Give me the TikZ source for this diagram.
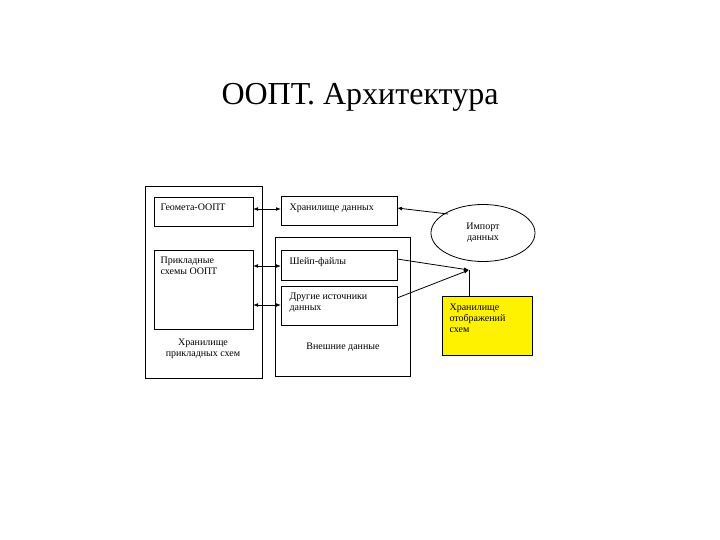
\documentclass[tikz,border=0pt]{standalone}
\usepackage{fontspec}
\setmainfont{Liberation Serif}
\usetikzlibrary{arrows.meta,shapes.geometric}
\begin{document}
\begin{tikzpicture}[x=1pt,y=-1pt,
  box/.style={draw,thick,inner sep=0pt},
  lbl/.style={font=\fontsize{10}{11}\selectfont,align=left,anchor=north west},
  dbl/.style={thick,{Latex[length=5pt]}-{Latex[length=5pt]}},
  sgl/.style={thick,-{Latex[length=5pt]}}]
\useasboundingbox (0,0) rectangle (720,540);
\node[font=\fontsize{32}{36}\selectfont] (title) at (360,97) {ООПТ. Архитектура};
\draw[thick] (145,186) rectangle (262,378);
\draw[thick] (275,237) rectangle (410,376);
\node[box,minimum width=99pt,minimum height=29pt,anchor=north west] (geo) at (154,197) {};
\node[lbl] at (157,200) {Геомета-ООПТ};
\node[box,minimum width=99pt,minimum height=79pt,anchor=north west] (pri) at (154,250) {};
\node[lbl] at (157,253) {Прикладные\\схемы ООПТ};
\node[font=\fontsize{10}{11}\selectfont,align=center] (hps) at (203,349) {Хранилище\\прикладных схем};
\node[box,minimum width=116pt,minimum height=29pt,anchor=north west] (hd) at (281,196) {};
\node[lbl] at (286,200) {Хранилище данных};
\node[box,minimum width=116pt,minimum height=30pt,anchor=north west] (shp) at (281,250) {};
\node[lbl] at (286,254) {Шейп-файлы};
\node[box,minimum width=116pt,minimum height=39pt,anchor=north west] (oth) at (281,286) {};
\node[lbl] at (286,289) {Другие источники\\данных};
\node[font=\fontsize{10}{11}\selectfont] (ext) at (343,347) {Внешние данные};
\node[draw,ellipse,thick,minimum width=104pt,minimum height=57pt,inner sep=0pt,font=\fontsize{10}{11}\selectfont,align=center] (imp) at (483,233) {Импорт\\данных};
\node[box,fill=yellow,minimum width=90pt,minimum height=59pt,anchor=north west] (ys) at (442,296) {};
\node[lbl] at (446,300) {Хранилище\\отображений\\схем};
\coordinate (j) at (469,270);
\draw[dbl] (253,209) -- (281,209);
\draw[dbl] (253,266) -- (281,266);
\draw[dbl] (253,305) -- (281,305);
\draw[sgl] (448,214) -- (397,208);
\draw[sgl] (397,259) -- (j);
\draw[sgl] (397,298) -- (j);
\draw[thick] (469,296) -- (j);
\end{tikzpicture}
\end{document}
